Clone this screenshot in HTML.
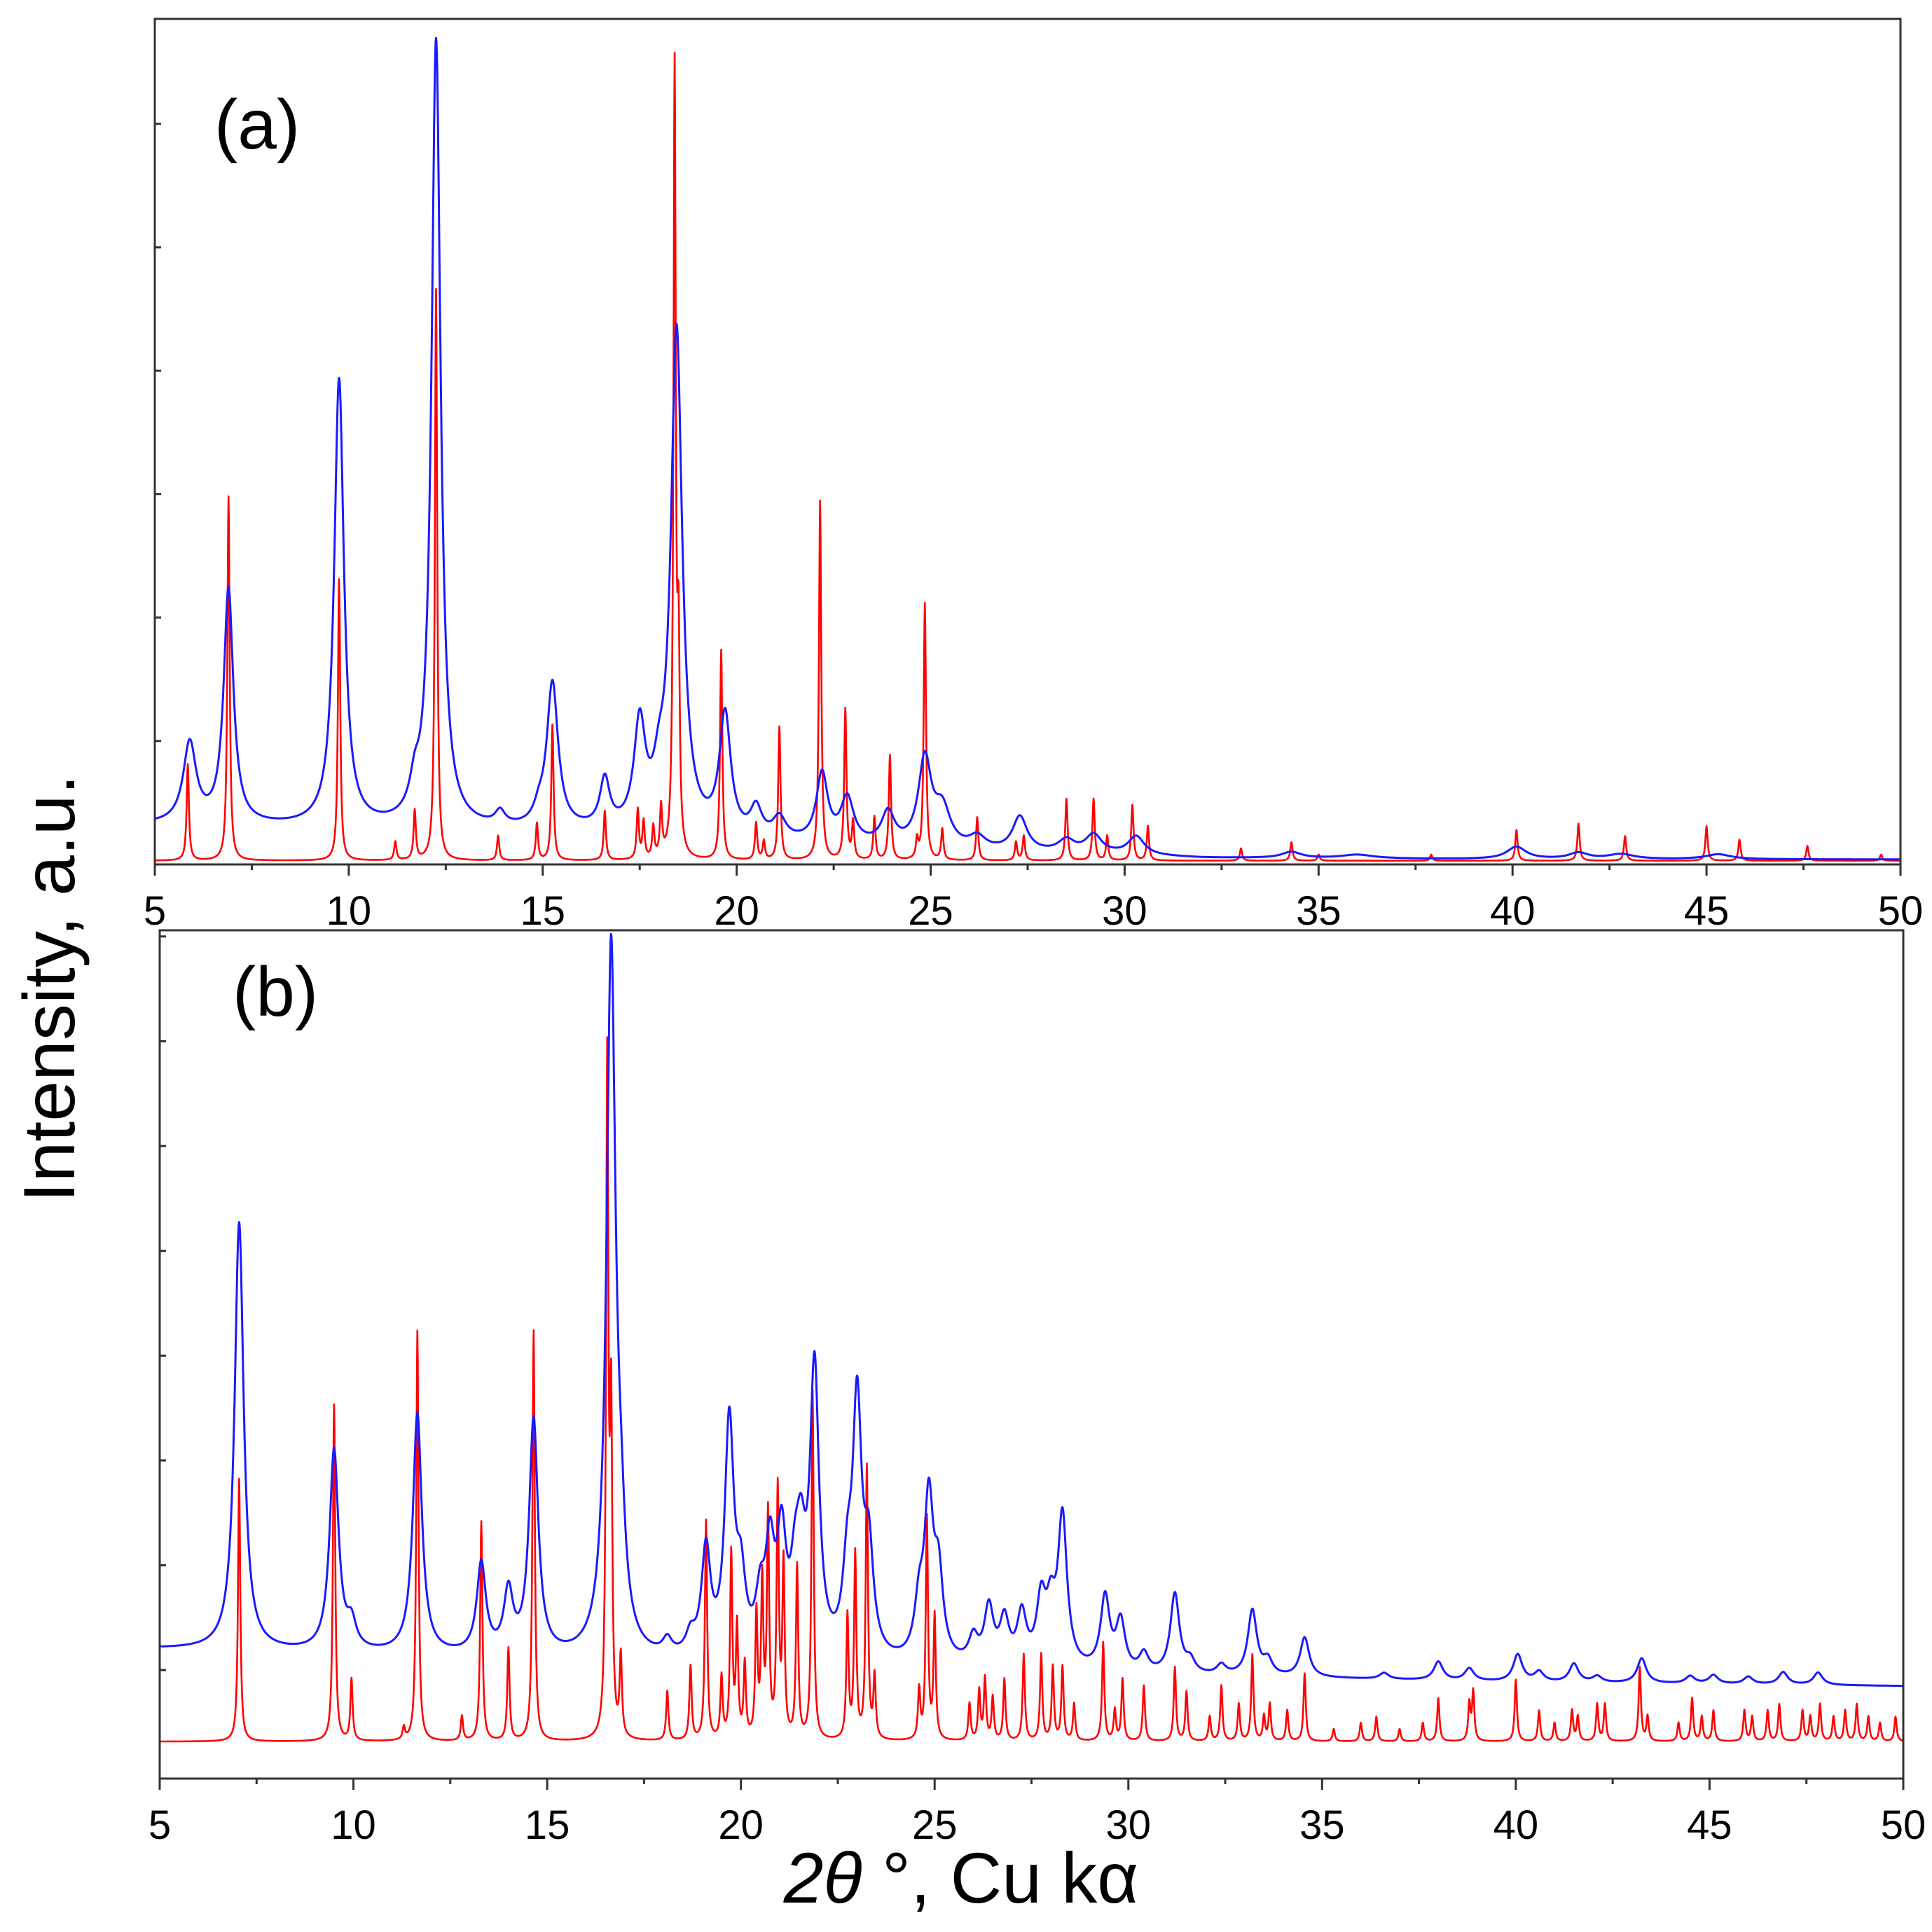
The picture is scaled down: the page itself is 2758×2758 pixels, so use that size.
<!DOCTYPE html>
<html><head><meta charset="utf-8"><style>
html,body{margin:0;padding:0;background:#fff}
svg{display:block}
text{font-family:"Liberation Sans",Arial,sans-serif}
</style></head><body>
<svg id="chart" width="2758" height="2758" viewBox="0 0 2758 2758" xmlns="http://www.w3.org/2000/svg">
<text x="0" y="0" transform="translate(106,1411) rotate(-90)" font-size="104" text-anchor="middle" fill="#000">Intensity, a.u.</text>
<text x="1372" y="2716" font-size="102" text-anchor="middle" fill="#000"><tspan font-style="italic">2θ</tspan> °, Cu kα</text>
</svg>
<script>
// ---- Panel (a) data ----
const aBgX = [5, 8, 11, 13, 16, 20, 23, 26, 30, 32, 40, 50];
const aBgY = [32, 30, 28, 27, 25, 18, 14, 10, 7, 5, 4, 4];
const aBluePos = [5.9, 6.9, 9.75, 11.7, 12.25, 13.9, 14.9, 15.25, 16.6, 17.5, 18.0, 18.45, 19.7, 20.5, 21.1, 22.2, 22.85, 23.9, 24.85, 25.3, 26.2, 27.3, 28.5, 29.2, 30.3, 34.3, 36, 40.1, 41.7, 42.8, 45.3];
const aBlueH = [65, 190, 362, 22, 638, 11, 10, 118, 39, 84, 30, 407, 97, 23, 17, 55, 36, 26, 70, 30, 10, 28, 10, 15, 15, 5, 3, 10, 5, 4, 4];
const aBlueW = [0.4, 0.3, 0.3, 0.3, 0.28, 0.3, 0.3, 0.35, 0.3, 0.35, 0.35, 0.35, 0.35, 0.35, 0.4, 0.35, 0.4, 0.4, 0.4, 0.5, 0.5, 0.45, 0.5, 0.5, 0.5, 0.6, 1.0, 0.6, 0.6, 0.8, 0.8];
const aRedPos = [5.85, 6.9, 9.75, 11.2, 11.7, 12.25, 13.85, 14.85, 15.25, 16.6, 17.45, 17.6, 17.85, 18.05, 18.4, 18.5, 19.6, 20.5, 20.7, 21.1, 22.15, 22.8, 23.0, 23.55, 23.95, 24.65, 24.85, 25.3, 26.2, 27.2, 27.4, 28.5, 29.2, 29.55, 30.2, 30.6, 33.0, 34.3, 35, 37.9, 40.1, 41.7, 42.9, 45.0, 45.85, 47.6, 49.5];
const aRedH = [78, 295, 228, 15, 40, 463, 20, 30, 110, 40, 40, 30, 25, 40, 637, 155, 170, 30, 15, 108, 291, 122, 30, 35, 85, 15, 208, 25, 35, 15, 20, 50, 50, 20, 45, 28, 10, 15, 5, 5, 25, 30, 20, 28, 17, 12, 5];
// ---- Panel (b) data ----
const bBgX = [5, 15, 20, 27, 30, 35, 40, 50];
const bBgY = [105, 96, 91, 88, 83, 81, 78, 75];
const bBluePos = [7.05, 9.5, 9.95, 11.65, 13.3, 14.0, 14.65, 16.65, 16.9, 18.1, 18.7, 19.1, 19.7, 20.0, 20.5, 20.75, 21.05, 21.4, 21.55, 21.9, 22.75, 23.0, 23.3, 24.6, 24.85, 25.1, 26.0, 26.4, 26.8, 27.25, 27.75, 28.0, 28.3, 29.4, 29.8, 30.4, 31.2, 31.6, 32.4, 33.2, 33.6, 34.55, 36.6, 38.0, 38.8, 40.05, 40.6, 41.5, 42.1, 43.25, 44.5, 45.1, 46.0, 46.9, 47.8];
const bBlueH = [347, 163, 20, 195, 73, 49, 190, 573, 60, 12, 15, 85, 188, 55, 40, 80, 90, 50, 70, 231, 60, 200, 80, 40, 125, 65, 20, 45, 35, 40, 50, 40, 120, 59, 40, 15, 65, 10, 8, 53, 12, 32, 5, 15, 10, 22, 8, 15, 5, 20, 6, 7, 6, 10, 10];
const bRedPos = [7.05, 9.5, 9.95, 11.3, 11.65, 12.8, 13.3, 14.0, 14.65, 16.55, 16.65, 16.9, 18.1, 18.7, 19.1, 19.5, 19.75, 19.9, 20.1, 20.4, 20.55, 20.7, 20.95, 21.1, 21.45, 21.85, 22.75, 22.95, 23.25, 23.45, 24.6, 24.8, 25.0, 25.9, 26.15, 26.3, 26.5, 26.8, 27.3, 27.75, 28.05, 28.3, 28.6, 29.35, 29.65, 29.85, 30.4, 31.2, 31.5, 32.1, 32.4, 32.85, 33.2, 33.5, 33.65, 34.1, 34.55, 35.3, 36.0, 36.4, 37.0, 37.6, 38.0, 38.8, 38.9, 40.0, 40.6, 41.0, 41.45, 41.6, 42.1, 42.3, 43.2, 43.4, 44.2, 44.55, 44.8, 45.1, 45.9, 46.1, 46.5, 46.8, 47.4, 47.6, 47.85, 48.2, 48.5, 48.8, 49.1, 49.4, 49.8];
const bRedH = [213, 273, 50, 10, 333, 20, 178, 75, 333, 543, 250, 65, 40, 60, 178, 50, 150, 90, 60, 100, 125, 180, 200, 140, 140, 283, 100, 150, 221, 50, 40, 180, 100, 30, 40, 50, 35, 50, 70, 70, 60, 60, 30, 80, 25, 50, 45, 60, 40, 20, 45, 30, 70, 20, 30, 25, 55, 10, 15, 20, 10, 15, 35, 30, 40, 50, 25, 15, 25, 20, 30, 30, 60, 20, 15, 35, 20, 25, 25, 20, 25, 30, 25, 20, 30, 20, 25, 30, 20, 15, 20];
const xTicks = [5, 10, 15, 20, 25, 30, 35, 40, 45, 50];
const aYTicks = [100, 200, 300, 400, 500, 600];
const bYTicks = [88, 173, 258, 343, 428, 513, 598, 683];

const NS = "http://www.w3.org/2000/svg";
const svg = document.getElementById('chart');
function mk(tag, attrs, parent) {
  const e = document.createElementNS(NS, tag);
  for (const k in attrs) e.setAttribute(k, attrs[k]);
  (parent || svg).appendChild(e);
  return e;
}
function interp(xs, ys, x) {
  if (x <= xs[0]) return ys[0];
  for (let i = 1; i < xs.length; i++) if (x <= xs[i]) {
    const t = (x - xs[i-1]) / (xs[i] - xs[i-1]); return ys[i-1] + t * (ys[i] - ys[i-1]);
  }
  return ys[ys.length-1];
}
function lor(x, p, w) { const d = (x - p) / (w / 2); return 1 / (1 + d * d); }

function panel(cfg, id) {
  const X = v => cfg.x0 + (v - 5) / 45 * (cfg.x1 - cfg.x0);
  const Y = v => cfg.yb - v / cfg.ymax * (cfg.yb - cfg.yt);
  const g = mk('g', {});
  
  
  let rd = '';
  for (let i = 0; i <= 4500; i++) {
    const x = 5 + i * 0.01;
    let v = cfg.redBase;
    for (let k = 0; k < cfg.rp.length; k++) v += cfg.rh[k] * lor(x, cfg.rp[k], 0.07);
    rd += (i ? 'L' : 'M') + X(x).toFixed(1) + ',' + Y(v).toFixed(1);
  }
  const red = mk('path', {d: rd, fill: 'none', stroke: '#ff0000', 'stroke-width': 2.6, 'stroke-linejoin': 'round'}, g);
  
  
  let bd = '';
  for (let i = 0; i <= 4500; i++) {
    const x = 5 + i * 0.01;
    let v = interp(cfg.bgx, cfg.bgy, x);
    for (let k = 0; k < cfg.bp.length; k++) v += cfg.bh[k] * lor(x, cfg.bp[k], cfg.bw ? cfg.bw[k] : 0.28);
    bd += (i ? 'L' : 'M') + X(x).toFixed(1) + ',' + Y(v).toFixed(1);
  }
  const blue = mk('path', {d: bd, fill: 'none', stroke: '#1a1aff', 'stroke-width': 3, 'stroke-linejoin': 'round'}, g);
  
  
  const fr = mk('rect', {x: cfg.x0, y: cfg.yt, width: cfg.x1 - cfg.x0, height: cfg.yb - cfg.yt, fill: 'none', stroke: '#333', 'stroke-width': 3}, g);
  
  
  for (let i = 0; i < xTicks.length; i++) {
    const t = xTicks[i];
    mk('line', {x1: X(t), x2: X(t), y1: cfg.yb, y2: cfg.yb + 16, stroke: '#333', 'stroke-width': 3}, g);
    if (t < 50) mk('line', {x1: X(t + 2.5), x2: X(t + 2.5), y1: cfg.yb, y2: cfg.yb + 8, stroke: '#333', 'stroke-width': 3}, g);
    const lb = mk('text', {x: X(t), y: cfg.yb + 86, 'font-size': 58, 'text-anchor': 'middle', fill: '#000'}, g);
    lb.textContent = t;
    
    
  }
  for (const t of cfg.yt2) {
    mk('line', {x1: cfg.x0, x2: cfg.x0 + 9, y1: Y(t), y2: Y(t), stroke: '#333', 'stroke-width': 3}, g);
  }
  const lab = mk('text', {x: cfg.lx, y: cfg.ly, 'font-size': 100, fill: '#000'}, g);
  lab.textContent = '(' + id + ')';
  
  
}

panel({x0: 221, x1: 2713, yt: 27, yb: 1234, ymax: 685, redBase: 3,
  bgx: aBgX, bgy: aBgY, bp: aBluePos, bh: aBlueH, bw: aBlueW, rp: aRedPos, rh: aRedH,
  yt2: aYTicks, lx: 306, ly: 212}, 'a');
panel({x0: 228, x1: 2717, yt: 1328, yb: 2539, ymax: 688, redBase: 30,
  bgx: bBgX, bgy: bBgY, bp: bBluePos, bh: bBlueH, bw: null, rp: bRedPos, rh: bRedH,
  yt2: bYTicks, lx: 332, ly: 1450}, 'b');
</script>
</body></html>
